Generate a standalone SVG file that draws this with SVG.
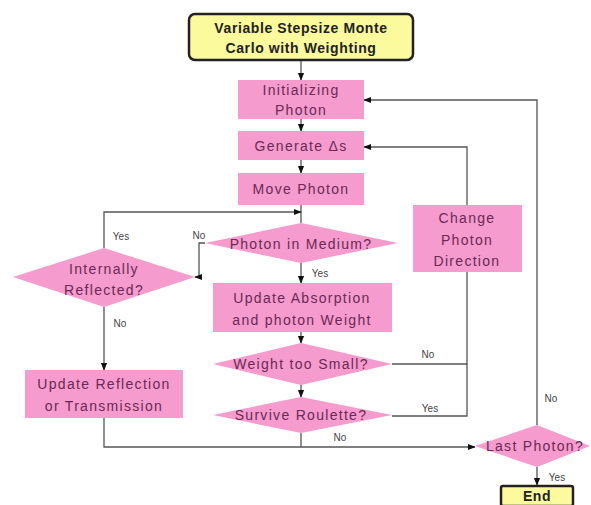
<svg xmlns="http://www.w3.org/2000/svg" width="591" height="505" viewBox="0 0 591 505">
<defs>
<style>
.n{fill:#f59bcd;stroke:none}
.t{font-family:"Liberation Sans",Arial,sans-serif;font-size:14px;letter-spacing:1.3px;fill:#6a2a55;text-anchor:middle}
.tb{font-family:"Liberation Sans",Arial,sans-serif;font-size:14px;letter-spacing:0.6px;fill:#222;text-anchor:middle;font-weight:bold}
.l{font-family:"Liberation Sans",Arial,sans-serif;font-size:10px;fill:#444;text-anchor:middle}
.c{fill:none;stroke:#555;stroke-width:1.3}
.y{fill:#fbfa9c;stroke:#222;stroke-width:2.5}
</style>
<marker id="a" viewBox="0 0 10 10" refX="9" refY="5" markerWidth="6" markerHeight="6" orient="auto">
<path d="M0,1 L10,5 L0,9 z" fill="#111"/>
</marker>
</defs>
<rect width="591" height="505" fill="#fff"/>
<g id="connectors">
<path class="c" d="M301,60 V80" marker-end="url(#a)"/>
<path class="c" d="M301,119 V131" marker-end="url(#a)"/>
<path class="c" d="M301,160 V173" marker-end="url(#a)"/>
<path class="c" d="M301,205 V223"/>
<path class="c" d="M104,248 V212 H301" marker-end="url(#a)"/>
<path class="c" d="M205,243 H199 V277 H195" marker-end="url(#a)"/>
<path class="c" d="M301,263 V283" marker-end="url(#a)"/>
<path class="c" d="M301,332 V343" marker-end="url(#a)"/>
<path class="c" d="M301,385 V397" marker-end="url(#a)"/>
<path class="c" d="M392,364 H467 V272"/>
<path class="c" d="M392,416 H467 V364"/>
<path class="c" d="M467,205 V147 H364" marker-end="url(#a)"/>
<path class="c" d="M537,425 V100 H364" marker-end="url(#a)"/>
<path class="c" d="M104,307 V370" marker-end="url(#a)"/>
<path class="c" d="M104,418 V447 H475" marker-end="url(#a)"/>
<path class="c" d="M301,433 V447"/>
<path class="c" d="M537,467 V485" marker-end="url(#a)"/>
<text class="l" x="121" y="240">Yes</text>
<text class="l" x="199" y="239">No</text>
<text class="l" x="320" y="277">Yes</text>
<text class="l" x="120" y="327">No</text>
<text class="l" x="428" y="358">No</text>
<text class="l" x="430" y="412">Yes</text>
<text class="l" x="340" y="441">No</text>
<text class="l" x="551" y="402">No</text>
<text class="l" x="557" y="481">Yes</text>
</g>
<g id="start">
<rect class="y" x="189" y="14" width="224" height="46" rx="6"/>
<text class="tb" x="301" y="33">Variable Stepsize Monte</text>
<text class="tb" x="301" y="53">Carlo with Weighting</text>
</g>
<g id="init">
<rect class="n" x="238" y="80" width="126" height="39"/>
<text class="t" x="301" y="95">Initializing</text>
<text class="t" x="301" y="115">Photon</text>
</g>
<g id="generate">
<rect class="n" x="238" y="131" width="126" height="29"/>
<text class="t" x="301" y="151">Generate Δs</text>
</g>
<g id="move">
<rect class="n" x="238" y="173" width="126" height="32"/>
<text class="t" x="301" y="194">Move Photon</text>
</g>
<g id="inmedium">
<polygon class="n" points="205,243 301,223 398,243 301,263"/>
<text class="t" x="301" y="249">Photon in Medium?</text>
</g>
<g id="absorption">
<rect class="n" x="213" y="283" width="179" height="49"/>
<text class="t" x="302" y="303">Update Absorption</text>
<text class="t" x="302" y="325">and photon Weight</text>
</g>
<g id="weight">
<polygon class="n" points="213,364 301,343 392,364 301,385"/>
<text class="t" x="301" y="369">Weight too Small?</text>
</g>
<g id="roulette">
<polygon class="n" points="213,415 301,397 392,415 301,433"/>
<text class="t" x="301" y="420">Survive Roulette?</text>
</g>
<g id="change">
<rect class="n" x="413" y="205" width="109" height="67"/>
<text class="t" x="467" y="223">Change</text>
<text class="t" x="467" y="245">Photon</text>
<text class="t" x="467" y="266">Direction</text>
</g>
<g id="reflected">
<polygon class="n" points="13,277 104,248 195,277 104,307"/>
<text class="t" x="104" y="274">Internally</text>
<text class="t" x="104" y="295">Reflected?</text>
</g>
<g id="reflection">
<rect class="n" x="25" y="370" width="158" height="48"/>
<text class="t" x="104" y="389">Update Reflection</text>
<text class="t" x="104" y="411">or Transmission</text>
</g>
<g id="last">
<polygon class="n" points="475,446 537,425 590,446 537,467"/>
<text class="t" x="535" y="451">Last Photon?</text>
</g>
<g id="end">
<rect class="y" x="501" y="486" width="72" height="20" rx="2"/>
<text class="tb" x="537" y="501">End</text>
</g>
</svg>
